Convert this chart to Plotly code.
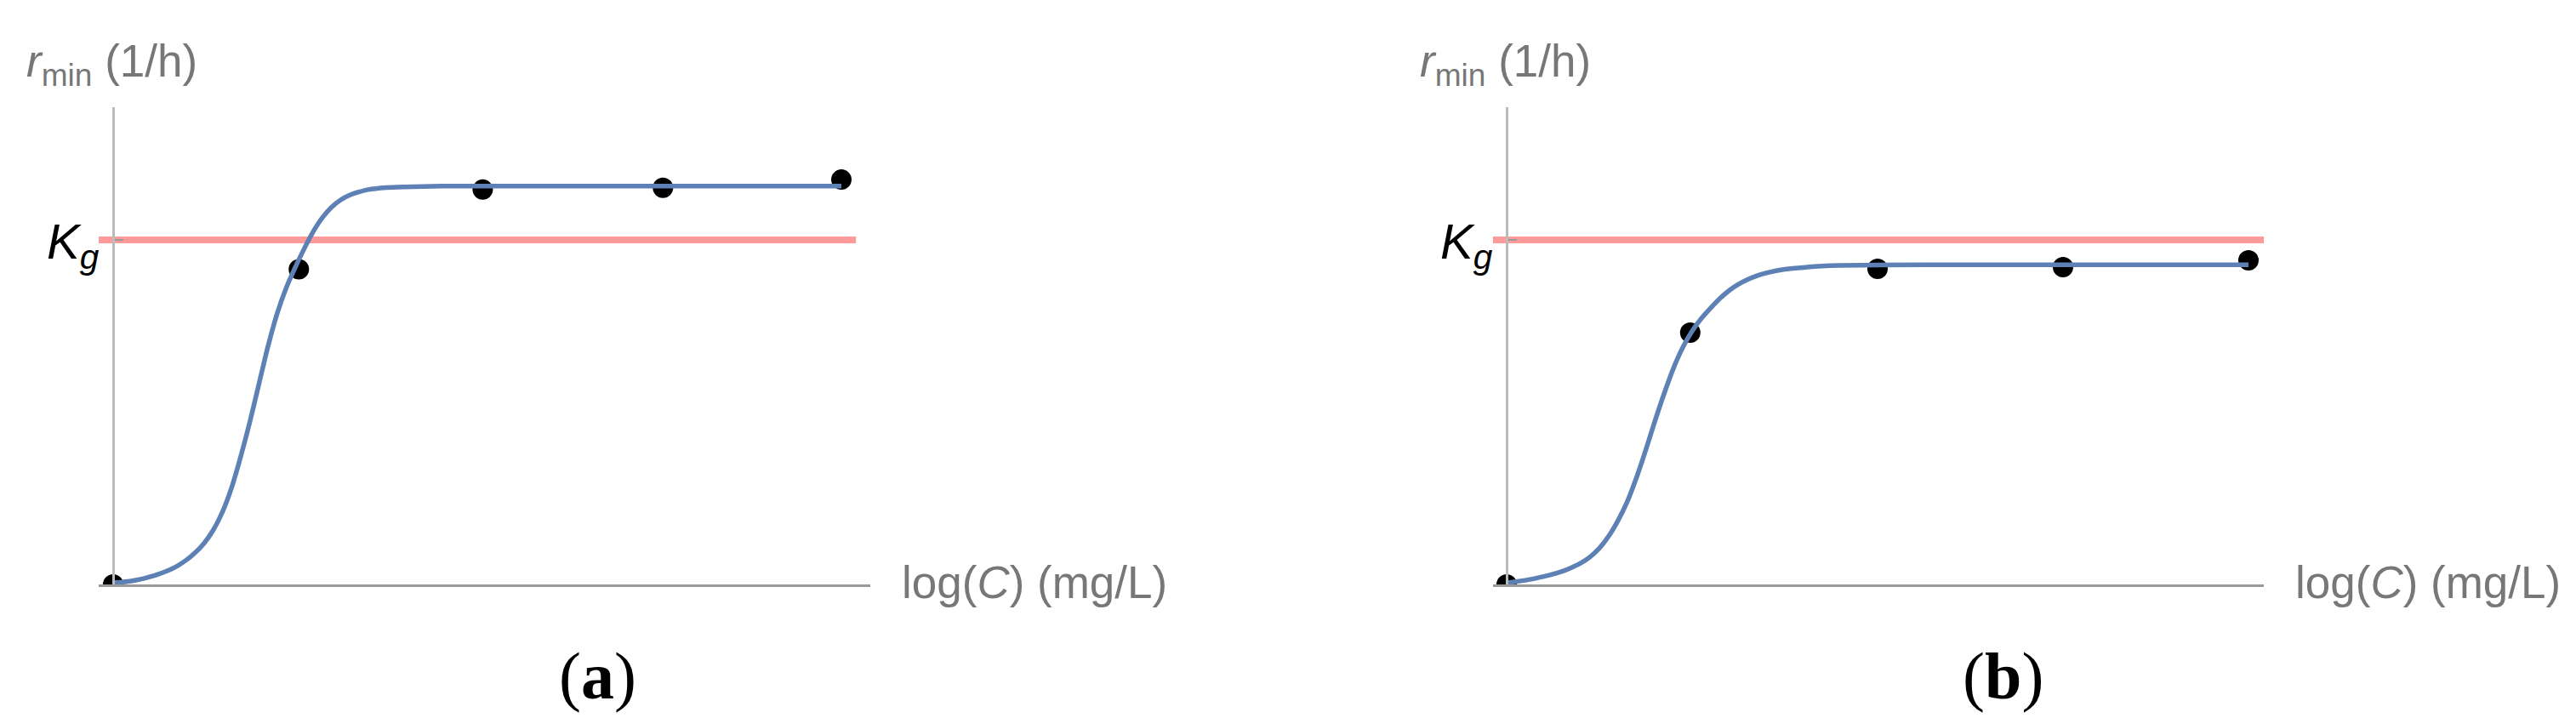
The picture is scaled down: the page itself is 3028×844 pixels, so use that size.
import plotly.graph_objects as go

W, H = 3028, 844

# ---------------- data (normalised so that Kg = 1) ----------------
KG = 1.0

# panel (a)
pts_a_x = [0.0, 1.02, 2.03, 3.02, 4.0]
pts_a_y = [0.0, 0.915, 1.146, 1.151, 1.175]
curve_a_x = [0.0, 0.05, 0.1, 0.15, 0.2, 0.25, 0.3, 0.35, 0.4, 0.45, 0.5, 0.55, 0.6, 0.65,
             0.7, 0.75, 0.8, 0.85, 0.9, 0.95, 1.0, 1.05, 1.1, 1.15, 1.2, 1.25, 1.3, 1.35,
             1.4, 1.5, 1.6, 1.7, 1.8, 2.0, 2.5, 3.0, 3.5, 4.0]
curve_a_y = [0.005, 0.007, 0.010, 0.015, 0.022, 0.030, 0.040, 0.053, 0.070, 0.092, 0.120,
             0.158, 0.210, 0.280, 0.370, 0.470, 0.580, 0.690, 0.785, 0.860, 0.920, 0.975,
             1.025, 1.065, 1.095, 1.116, 1.130, 1.139, 1.146, 1.152, 1.154, 1.155, 1.156,
             1.156, 1.156, 1.156, 1.156, 1.156]
kg_a_x = [-0.08, 4.08]

# panel (b)
pts_b_x = [0.0, 0.99, 2.0, 3.0, 4.0]
pts_b_y = [0.0, 0.731, 0.916, 0.921, 0.941]
curve_b_x = [0.0, 0.05, 0.1, 0.15, 0.2, 0.25, 0.3, 0.35, 0.4, 0.45, 0.5, 0.55, 0.6, 0.65,
             0.7, 0.75, 0.8, 0.85, 0.9, 0.95, 1.0, 1.05, 1.1, 1.15, 1.2, 1.25, 1.3, 1.35,
             1.4, 1.5, 1.6, 1.7, 1.8, 2.0, 2.5, 3.0, 3.5, 4.0]
curve_b_y = [0.005, 0.008, 0.012, 0.017, 0.023, 0.030, 0.038, 0.049, 0.062, 0.080, 0.105,
             0.140, 0.185, 0.240, 0.310, 0.390, 0.475, 0.555, 0.628, 0.688, 0.735, 0.772,
             0.802, 0.830, 0.853, 0.871, 0.885, 0.896, 0.904, 0.915, 0.920, 0.924, 0.926,
             0.927, 0.928, 0.928, 0.928, 0.928]
kg_b_x = [-0.08, 4.09]

Y_LABEL = "<i>r</i><sub>min</sub> (1/h)"
X_LABEL = "log(<i>C</i>) (mg/L)"
KG_LABEL = "<i>K</i><sub><i>g</i></sub>"
PANEL_LABELS = ["(<b>a</b>)", "(<b>b</b>)"]

# ---------------- styles ----------------
RED = "#ff9a9a"
BLUE = "#5e81b5"
GRAY_TXT = "#777777"


def px(x):
    return x / W


def py(y):
    return 1 - y / H


fig = go.Figure()

panels = [
    dict(ax="x", ay="y", pts=(pts_a_x, pts_a_y), cur=(curve_a_x, curve_a_y), kg=kg_a_x),
    dict(ax="x2", ay="y2", pts=(pts_b_x, pts_b_y), cur=(curve_b_x, curve_b_y), kg=kg_b_x),
]

for p in panels:
    fig.add_trace(go.Scatter(x=p["kg"], y=[KG, KG], mode="lines",
                             line=dict(color=RED, width=8), xaxis=p["ax"], yaxis=p["ay"],
                             showlegend=False, hoverinfo="skip"))
    fig.add_trace(go.Scatter(x=p["pts"][0], y=p["pts"][1], mode="markers",
                             marker=dict(color="black", size=24), xaxis=p["ax"], yaxis=p["ay"],
                             showlegend=False))
    fig.add_trace(go.Scatter(x=p["cur"][0], y=p["cur"][1], mode="lines",
                             line=dict(color=BLUE, width=5.5, shape="spline", smoothing=0.7),
                             xaxis=p["ax"], yaxis=p["ay"], showlegend=False))

# pixel geometry
ax_a = dict(left=108, right=1015, zero=125, scale=214)
ax_b = dict(left=1747, right=2653, zero=1763, scale=218)
top, bottom = 118, 679
yscale = 405

common_x = dict(showgrid=False, zeroline=False, showticklabels=False, ticks="",
                showline=True, linecolor="#999999", linewidth=3)
common_y = dict(showgrid=False, zeroline=False, showticklabels=False,
                showline=True, linecolor="#bbbbbb", linewidth=2.5,
                ticks="inside", tickvals=[KG], ticklen=10, tickcolor="#999999", tickwidth=2,
                range=[0, (bottom - top) / yscale], domain=[py(bottom), py(top)])

layout = dict(width=W, height=H, margin=dict(l=0, r=0, t=0, b=0),
              plot_bgcolor="white", paper_bgcolor="white", showlegend=False)

for g, xn, yn in [(ax_a, "xaxis", "yaxis"), (ax_b, "xaxis2", "yaxis2")]:
    xr = [(g["left"] - g["zero"]) / g["scale"], (g["right"] - g["zero"]) / g["scale"]]
    layout[xn] = dict(common_x, range=xr, domain=[px(g["left"]), px(g["right"])],
                      anchor="y" if yn == "yaxis" else "y2")
    layout[yn] = dict(common_y, anchor="free", position=px(g["zero"]))

fig.update_layout(**layout)

ann = []
for i, g in enumerate([ax_a, ax_b]):
    z = g["zero"]
    ann.append(dict(text=Y_LABEL, x=px(z - 104), y=py(67), xref="paper", yref="paper",
                    xanchor="left", yanchor="middle", showarrow=False,
                    font=dict(family="Liberation Sans", size=53, color=GRAY_TXT)))
    ann.append(dict(text=KG_LABEL, x=px(z - 14), y=py(280), xref="paper", yref="paper",
                    xanchor="right", yanchor="middle", showarrow=False,
                    font=dict(family="Liberation Sans", size=58, color="black")))
    ann.append(dict(text=X_LABEL, x=px(g["right"] + 35), y=py(676),
                    xref="paper", yref="paper",
                    xanchor="left", yanchor="middle", showarrow=False,
                    font=dict(family="Liberation Sans", size=53, color=GRAY_TXT)))
    ann.append(dict(text=PANEL_LABELS[i], x=px([694, 2346][i]), y=py(786),
                    xref="paper", yref="paper", xanchor="center", yanchor="middle",
                    showarrow=False,
                    font=dict(family="Liberation Serif", size=78, color="black")))

fig.update_layout(annotations=ann)

fig.write_html("out.html")
